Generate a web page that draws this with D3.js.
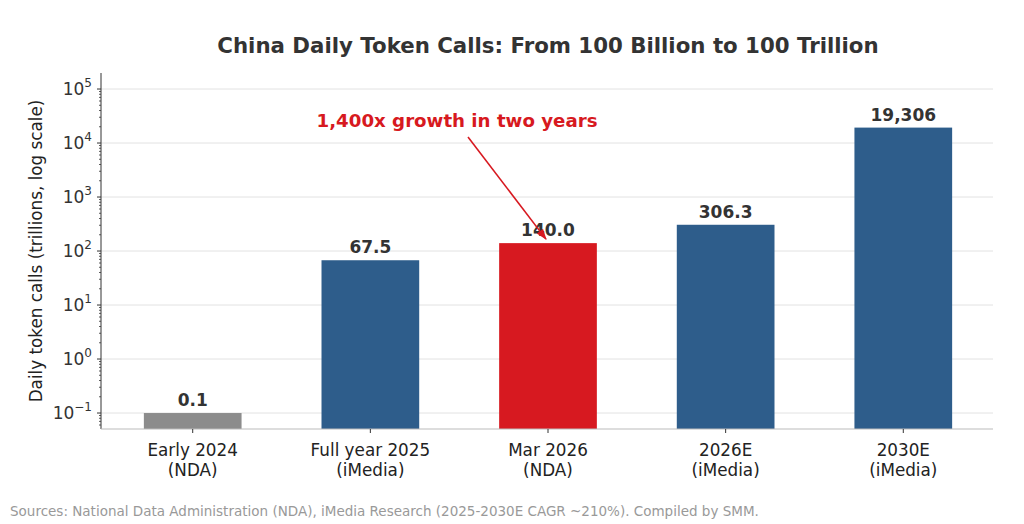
<!DOCTYPE html>
<meta charset="utf-8">
<style>
body{margin:0;background:#fff;}
svg text{font-family:"DejaVu Sans",sans-serif;}
</style>
<svg id="chart" width="1024" height="524"></svg>
<script src="https://d3js.org/d3.v7.min.js"></script>
<script>
// data
const categories = ['Early 2024|(NDA)', 'Full year 2025|(iMedia)', 'Mar 2026|(NDA)', '2026E|(iMedia)', '2030E|(iMedia)']
const values = [0.1, 67.5, 140.0, 306.3, 19306]
const valueLabels = ['0.1', '67.5', '140.0', '306.3', '19,306']
const barColors = ['#8c8c8c', '#2e5d8b', '#d71920', '#2e5d8b', '#2e5d8b']
const yTicks = [-1, 0, 1, 2, 3, 4, 5]

const svg = d3.select('#chart')
const mLeft = 101, mRight = 993, mTop = 73, mBottom = 429

// log scale, 54px per decade
const y = d3.scaleLog().domain([0.0506, 198000]).range([mBottom, mTop])
const x = d3.scaleBand().domain(categories).range([mLeft + 2, mRight]).paddingInner(0.45).paddingOuter(0.23)

// grid
svg.append('g').selectAll('line').data(yTicks).join('line')
  .attr('x1', mLeft).attr('x2', mRight)
  .attr('y1', d => y(Math.pow(10, d))).attr('y2', d => y(Math.pow(10, d)))
  .attr('stroke', '#e3e3e3').attr('stroke-width', 1)

// bars
svg.append('g').selectAll('rect').data(values).join('rect')
  .attr('x', (d, i) => x(categories[i]))
  .attr('width', x.bandwidth())
  .attr('y', d => y(d))
  .attr('height', d => mBottom - y(d))
  .attr('fill', (d, i) => barColors[i])

// value labels
svg.append('g').selectAll('text').data(values).join('text')
  .attr('x', (d, i) => x(categories[i]) + x.bandwidth() / 2)
  .attr('y', d => y(d) - 7)
  .attr('text-anchor', 'middle')
  .attr('font-size', 17).attr('font-weight', 'bold').attr('fill', '#333')
  .text((d, i) => valueLabels[i])

// y axis with minor ticks
const minor = []
for (let e = -2; e <= 5; e++) for (let k = 2; k <= 9; k++) {
  const v = k * Math.pow(10, e)
  if (v >= y.domain()[0] && v <= y.domain()[1]) minor.push(v)
}
const yAxis = svg.append('g').attr('transform', `translate(${mLeft},0)`)
yAxis.append('line').attr('y1', mTop).attr('y2', mBottom).attr('stroke', '#333').attr('stroke-width', 1)
yAxis.selectAll('line.minor').data(minor).join('line').attr('class', 'minor')
  .attr('x1', -2).attr('x2', 0).attr('y1', d => y(d)).attr('y2', d => y(d))
  .attr('stroke', '#333').attr('stroke-width', 0.8)
yAxis.selectAll('line.major').data(yTicks).join('line').attr('class', 'major')
  .attr('x1', -4).attr('x2', 0).attr('y1', d => y(Math.pow(10, d))).attr('y2', d => y(Math.pow(10, d)))
  .attr('stroke', '#333')
const yl = yAxis.selectAll('text').data(yTicks).join('text')
  .attr('x', -9).attr('y', d => y(Math.pow(10, d)) + 6)
  .attr('text-anchor', 'end').attr('font-size', 17).attr('fill', '#333')
yl.append('tspan').text('10')
yl.append('tspan').attr('dy', -8).attr('font-size', 12).text(d => d < 0 ? '\u2212' + (-d) : d)

// x axis
const xAxis = svg.append('g')
xAxis.append('line').attr('x1', mLeft).attr('x2', mRight).attr('y1', mBottom).attr('y2', mBottom)
  .attr('stroke', '#bbb').attr('stroke-width', 1)
xAxis.selectAll('line.tick').data(categories).join('line').attr('class', 'tick')
  .attr('x1', d => x(d) + x.bandwidth() / 2).attr('x2', d => x(d) + x.bandwidth() / 2)
  .attr('y1', mBottom).attr('y2', mBottom + 4).attr('stroke', '#333')
const xl = xAxis.selectAll('text').data(categories).join('text')
  .attr('text-anchor', 'middle').attr('font-size', 16.8).attr('fill', '#222')
xl.selectAll('tspan').data(d => d.split('|').map(s => [d, s])).join('tspan')
  .attr('x', d => x(d[0]) + x.bandwidth() / 2)
  .attr('y', (d, i) => mBottom + 27 + i * 19.5)
  .text(d => d[1])

// y label
svg.append('text')
  .attr('transform', `translate(42,${(mTop + mBottom) / 2}) rotate(-90)`)
  .attr('text-anchor', 'middle').attr('font-size', 16.8).attr('fill', '#222')
  .text('Daily token calls (trillions, log scale)')

// title
svg.append('text').attr('x', 548).attr('y', 53).attr('text-anchor', 'middle')
  .attr('font-size', 21.3).attr('font-weight', 'bold').attr('fill', '#333')
  .text('China Daily Token Calls: From 100 Billion to 100 Trillion')

// annotation
svg.append('defs').append('marker').attr('id', 'arr')
  .attr('viewBox', '0 0 10 10').attr('refX', 9).attr('refY', 5)
  .attr('markerWidth', 7).attr('markerHeight', 7).attr('orient', 'auto')
  .append('path').attr('d', 'M0,1.5 L10,5 L0,8.5 z').attr('fill', '#d71920')
const target = x(categories[2]) + x.bandwidth() / 2
svg.append('line')
  .attr('x1', 468).attr('y1', 137)
  .attr('x2', target - 2).attr('y2', y(values[2]) - 4)
  .attr('stroke', '#d71920').attr('stroke-width', 1.6).attr('marker-end', 'url(#arr)')
svg.append('text').attr('x', 457).attr('y', 127).attr('text-anchor', 'middle')
  .attr('font-size', 18.2).attr('font-weight', 'bold').attr('fill', '#d71920')
  .text('1,400x growth in two years')

// source
svg.append('text').attr('x', 10).attr('y', 516)
  .attr('font-size', 13.5).attr('fill', '#999')
  .text('Sources: National Data Administration (NDA), iMedia Research (2025-2030E CAGR ~210%). Compiled by SMM.')
</script>
